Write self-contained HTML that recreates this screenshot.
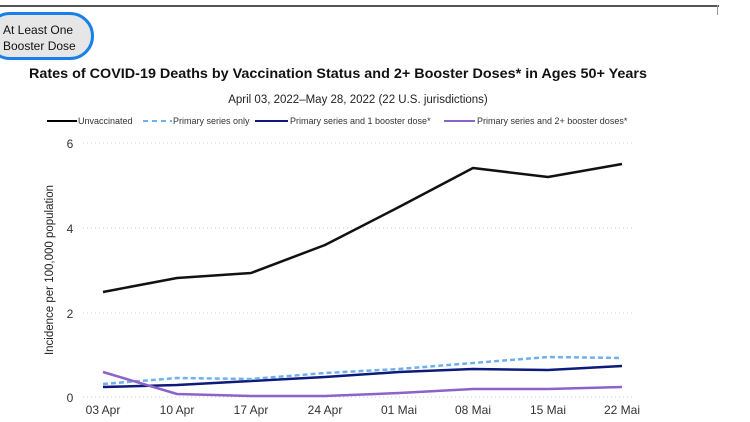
<!DOCTYPE html>
<html><head><style>
body{margin:0;width:750px;height:422px;background:#fff;overflow:hidden;position:relative;font-family:"Liberation Sans",sans-serif}
.btn{position:absolute;left:-14px;top:12px;width:108px;height:48px;border:3px solid #1a7fe6;border-radius:26px;background:#e6e6e6;font-size:12px;line-height:16px;color:#111;box-sizing:border-box;padding:7px 0 0 14px}
</style></head><body>
<div style="position:absolute;left:0;top:5px;width:719px;height:2px;background:#555"></div>
<div style="position:absolute;left:717px;top:5px;width:1px;height:10px;background:#999"></div>
<div class="btn">At Least One<br>Booster Dose</div>
<svg width="750" height="422" style="position:absolute;left:0;top:0">
<text x="338" y="78" text-anchor="middle" font-size="14" font-weight="bold" fill="#111" textLength="618" lengthAdjust="spacingAndGlyphs">Rates of COVID-19 Deaths by Vaccination Status and 2+ Booster Doses* in Ages 50+ Years</text>
<text x="358" y="103" text-anchor="middle" font-size="11.5" fill="#222">April 03, 2022–May 28, 2022 (22 U.S. jurisdictions)</text>
<g font-size="9" fill="#333">
<line x1="47" y1="121" x2="77" y2="121" stroke="#000" stroke-width="2"/><text x="78" y="124">Unvaccinated</text>
<line x1="143" y1="121" x2="172" y2="121" stroke="#6fb0ee" stroke-width="2" stroke-dasharray="5,4"/><text x="173" y="124">Primary series only</text>
<line x1="255" y1="121" x2="288" y2="121" stroke="#0d1a7a" stroke-width="2"/><text x="290" y="124">Primary series and 1 booster dose*</text>
<line x1="444" y1="121" x2="475" y2="121" stroke="#8d63c9" stroke-width="2"/><text x="477" y="124">Primary series and 2+ booster doses*</text>
</g>
<g stroke="#ccc" stroke-dasharray="1,3">
<line x1="83" y1="143" x2="632" y2="143"/><line x1="83" y1="228" x2="632" y2="228"/><line x1="83" y1="313" x2="632" y2="313"/><line x1="83" y1="397" x2="632" y2="397"/>
</g>
<g font-size="12" fill="#333" text-anchor="middle">
<text x="70" y="148">6</text><text x="70" y="233">4</text><text x="70" y="318">2</text><text x="70" y="402">0</text>
<text x="103" y="414">03 Apr</text><text x="177" y="414">10 Apr</text><text x="251" y="414">17 Apr</text><text x="325" y="414">24 Apr</text><text x="399" y="414">01 Mai</text><text x="473" y="414">08 Mai</text><text x="548" y="414">15 Mai</text><text x="622" y="414">22 Mai</text>
</g>
<text transform="translate(53,270) rotate(-90)" text-anchor="middle" font-size="11.5" fill="#222">Incidence per 100,000 population</text>
<g fill="none" stroke-width="2.5" stroke-linejoin="round">
<polyline stroke="#111" points="103,292 177,278 251,273 325,245 399,207 473,168 548,177 622,164"/>
<polyline stroke="#0d1a7a" points="103,387 177,385 251,381 325,377 399,372 473,369 548,370 622,366"/>
<polyline stroke="#6fb0ee" stroke-dasharray="5,3" points="103,384 177,378 251,379 325,373 399,369 473,363 548,357 622,358"/>
<polyline stroke="#8d63c9" points="103,372 177,394 251,396 325,396 399,393 473,389 548,389 622,387"/>
</g>
</svg>
</body></html>
